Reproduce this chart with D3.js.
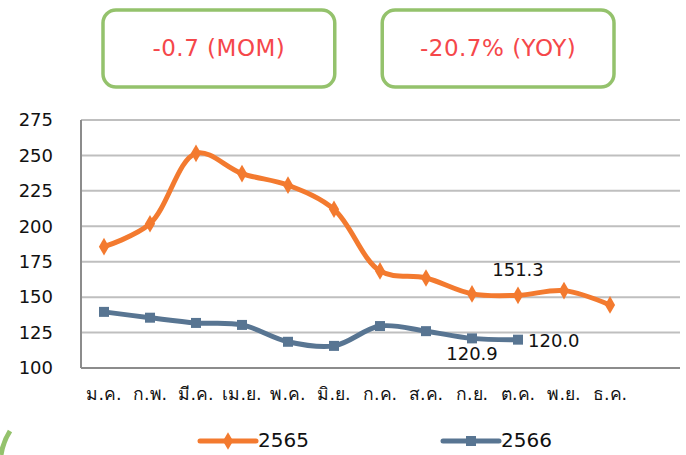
<!DOCTYPE html>
<html lang="th">
<head>
<meta charset="UTF-8">
<title>2565 vs 2566</title>
<style>
    body { margin: 0; background: #fff; }
    .axis text { font-family: 'DejaVu Sans', 'Noto Sans', sans-serif; fill: #111; }
</style>
</head>
<body>
<div id="chart"></div>
<script src="https://cdnjs.cloudflare.com/ajax/libs/d3/7.8.5/d3.min.js"></script>
<script>
const months = ['ม.ค.', 'ก.พ.', 'มี.ค.', 'เม.ย.', 'พ.ค.', 'มิ.ย.', 'ก.ค.', 'ส.ค.', 'ก.ย.', 'ต.ค.', 'พ.ย.', 'ธ.ค.'];
const values2565 = [185.6, 201.8, 251.5, 237.2, 229.0, 212.0, 168.5, 163.5, 152.3, 151.3, 154.6, 144.5];
const values2566 = [139.6, 135.5, 131.8, 130.4, 118.5, 115.6, 129.6, 126.0, 120.9, 120.0];
const yTicks = [100, 125, 150, 175, 200, 225, 250, 275];
const boxTexts = ['-0.7 (MOM)', '-20.7% (YOY)'];

const width = 686, height = 455;
const plotLeft = 81, plotRight = 680, plotTop = 120, plotBottom = 368;
const orange = '#F37A2F', blue = '#587592', green = '#94C26C';

const svg = d3.select('#chart').append('svg')
    .attr('width', width).attr('height', height);

// boxes at the top
const boxX = d3.scaleBand().domain(boxTexts).range([103, 614]).paddingInner(0.17);
const boxes = svg.selectAll('g.box').data(boxTexts).enter().append('g')
    .attr('class', 'box')
    .attr('transform', d => `translate(${boxX(d)}, 10)`);
boxes.append('rect')
    .attr('width', boxX.bandwidth()).attr('height', 77)
    .attr('rx', 13)
    .attr('fill', '#fff').attr('stroke', green).attr('stroke-width', 3.5);
boxes.append('text')
    .attr('x', boxX.bandwidth() / 2).attr('y', 39)
    .attr('text-anchor', 'middle').attr('dominant-baseline', 'middle')
    .style('font-family', "'DejaVu Sans', sans-serif")
    .style('font-size', '23px')
    .style('letter-spacing', '0.5px')
    .attr('fill', '#F5474A')
    .text(d => d);

// decorative arc bottom-left
svg.append('path')
    .attr('d', 'M 1 455 Q 3 442 10 431')
    .attr('fill', 'none').attr('stroke', green).attr('stroke-width', 5);

const x = d3.scaleBand().domain(months).range([plotLeft, plotLeft + 46 * 12]);
const y = d3.scaleLinear().domain([100, 275]).range([plotBottom, plotTop]);

// gridlines
svg.append('g').selectAll('line').data(yTicks.slice(1)).enter().append('line')
    .attr('x1', plotLeft).attr('x2', plotRight)
    .attr('y1', d => y(d)).attr('y2', d => y(d))
    .attr('stroke', '#BFBFBF').attr('stroke-width', 2);

// axes
svg.append('line').attr('x1', plotLeft).attr('x2', plotRight).attr('y1', plotBottom).attr('y2', plotBottom)
    .attr('stroke', '#8C8C8C').attr('stroke-width', 2);
svg.append('line').attr('x1', plotLeft).attr('x2', plotLeft).attr('y1', y(275)).attr('y2', plotBottom)
    .attr('stroke', '#8C8C8C').attr('stroke-width', 2);

const yAxis = d3.axisLeft(y).tickValues(yTicks).tickSize(0).tickPadding(0);
svg.append('g').attr('class', 'axis')
    .attr('transform', 'translate(53, 0)')
    .call(yAxis)
    .call(g => g.select('.domain').remove())
    .selectAll('text').style('font-size', '18px');

const xAxis = d3.axisBottom(x).tickSize(0).tickPadding(0);
svg.append('g').attr('class', 'axis')
    .attr('transform', `translate(0, ${plotBottom + 20})`)
    .call(xAxis)
    .call(g => g.select('.domain').remove())
    .selectAll('text').style('font-size', '17.5px');

const cx = (d, i) => x(months[i]) + x.bandwidth() / 2;
const line = d3.line().x(cx).y(d => y(d)).curve(d3.curveCatmullRom.alpha(0.5));

svg.append('path').datum(values2565)
    .attr('d', line).attr('fill', 'none')
    .attr('stroke', orange).attr('stroke-width', 5).attr('stroke-linejoin', 'round');
svg.append('path').datum(values2566)
    .attr('d', line).attr('fill', 'none')
    .attr('stroke', blue).attr('stroke-width', 5).attr('stroke-linejoin', 'round');

const diamond = d3.symbol().type(d3.symbolDiamond).size(90);
const square = d3.symbol().type(d3.symbolSquare).size(100);

svg.append('g').selectAll('path').data(values2565).enter().append('path')
    .attr('d', diamond)
    .attr('transform', (d, i) => `translate(${cx(d, i)}, ${y(d)})`)
    .attr('fill', orange);
svg.append('g').selectAll('path').data(values2566).enter().append('path')
    .attr('d', square)
    .attr('transform', (d, i) => `translate(${cx(d, i)}, ${y(d)})`)
    .attr('fill', blue);

// data labels
const labels = [
    {v: values2565[9], i: 9, dx: 0, dy: -24, anchor: 'middle'},
    {v: values2566[8], i: 8, dx: 0, dy: 17, anchor: 'middle'},
    {v: values2566[9], i: 9, dx: 10, dy: 2, anchor: 'start'}
];
svg.append('g').selectAll('text').data(labels).enter().append('text')
    .attr('x', d => cx(d.v, d.i) + d.dx)
    .attr('y', d => y(d.v) + d.dy)
    .attr('text-anchor', d => d.anchor)
    .attr('dominant-baseline', 'middle')
    .style('font-family', "'DejaVu Sans', sans-serif")
    .style('font-size', '18px')
    .attr('fill', '#111')
    .text(d => d.v.toFixed(1));

// legend
const legend = [
    {name: '2565', color: orange, sym: diamond, x: 200},
    {name: '2566', color: blue, sym: square, x: 443}
];
const lg = svg.selectAll('g.legend').data(legend).enter().append('g')
    .attr('class', 'legend')
    .attr('transform', d => `translate(${d.x}, 441)`);
lg.append('line').attr('x1', 0).attr('x2', 56)
    .attr('stroke', d => d.color).attr('stroke-width', 5).attr('stroke-linecap', 'round');
lg.append('path').attr('d', d => d.sym()).attr('transform', 'translate(28, 0)')
    .attr('fill', d => d.color);
lg.append('text').attr('x', 58).attr('dominant-baseline', 'middle')
    .style('font-family', "'DejaVu Sans', sans-serif").style('font-size', '20px')
    .attr('fill', '#111')
    .text(d => d.name);
</script>
</body>
</html>
